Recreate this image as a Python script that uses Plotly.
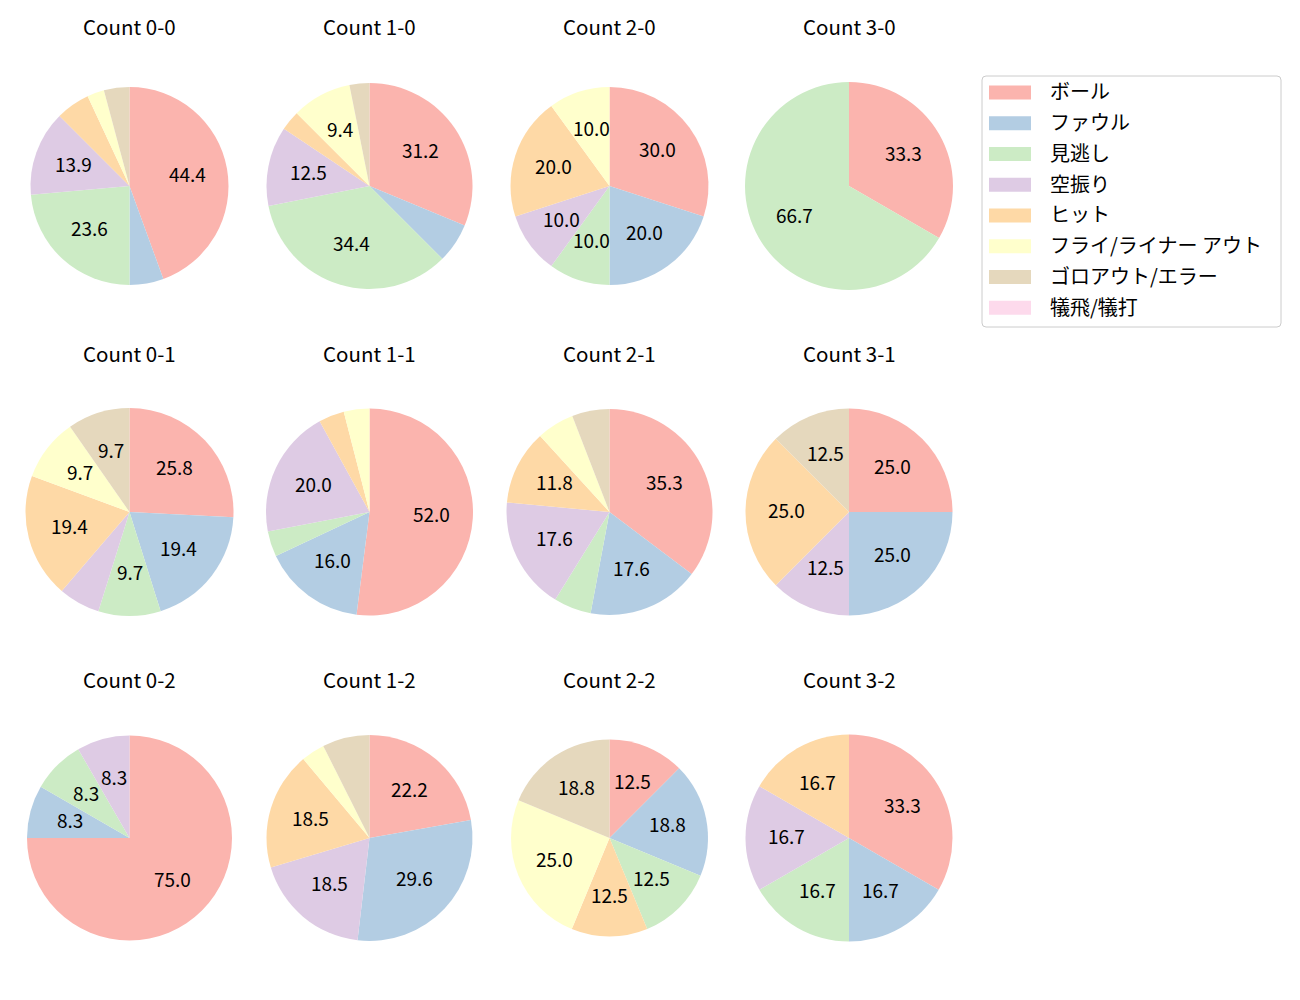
import numpy as np
import plotly.graph_objects as go

categories = ["ボール", "ファウル", "見逃し", "空振り", "ヒット",
              "フライ/ライナー アウト", "ゴロアウト/エラー", "犠飛/犠打"]
colors = ["#fbb4ae", "#b3cde3", "#ccebc5", "#decbe4", "#fed9a6",
          "#ffffcc", "#e5d8bd", "#fddaec"]

counts = ["0-0", "1-0", "2-0", "3-0",
          "0-1", "1-1", "2-1", "3-1",
          "0-2", "1-2", "2-2", "3-2"]

# pitch outcome counts per ball-strike count (order of categories)
v_00 = [32, 4, 17, 10, 4, 2, 3, 0]
v_10 = [10, 2, 11, 4, 1, 3, 1, 0]
v_20 = [3, 2, 1, 1, 2, 1, 0, 0]
v_30 = [1, 0, 2, 0, 0, 0, 0, 0]
v_01 = [8, 6, 3, 2, 6, 3, 3, 0]
v_11 = [13, 4, 1, 5, 1, 1, 0, 0]
v_21 = [6, 3, 1, 3, 2, 1, 1, 0]
v_31 = [2, 2, 0, 1, 2, 0, 1, 0]
v_02 = [9, 1, 1, 1, 0, 0, 0, 0]
v_12 = [6, 8, 0, 5, 5, 1, 2, 0]
v_22 = [2, 3, 2, 0, 2, 4, 3, 0]
v_32 = [2, 1, 1, 1, 1, 0, 0, 0]
values = [v_00, v_10, v_20, v_30, v_01, v_11, v_21, v_31, v_02, v_12, v_22, v_32]

# layout (pixels, in screenshot coordinates)
W, H = 1300, 1000
OFF = 8  # page body margin
col_x = [129.5, 369.5, 609.5, 849]
row_y = [186, 512, 838]
radii = [99, 103, 99, 104,
         104, 103.5, 103, 103.5,
         102.5, 103, 98.5, 103.5]
FONT = "Noto Sans CJK JP"
MIN_PCT = 8.0
TEXT_DY = -2.5  # font baseline compensation


def px(x):
    return (x - OFF) / W


def py(y):
    return 1 - (y - OFF) / H


fig = go.Figure()
annotations = []
shapes = []

for i, (cnt, vals) in enumerate(zip(counts, values)):
    r = radii[i]
    cx = col_x[i % 4]
    cy = row_y[i // 4]
    fig.add_trace(go.Pie(
        labels=categories, values=vals,
        marker=dict(colors=colors, line=dict(width=0)),
        sort=False, direction="clockwise", rotation=0,
        textinfo="none", showlegend=False,
        domain=dict(x=[px(cx - r), px(cx + r)],
                    y=[py(cy + r), py(cy - r)]),
        hovertemplate="%{label}: %{percent}<extra></extra>",
    ))
    v = np.array(vals, dtype=float)
    pct = v / v.sum() * 100
    ends = np.cumsum(pct) / 100 * 360
    starts = ends - pct / 100 * 360
    for p, s, e in zip(pct, starts, ends):
        if p < MIN_PCT:
            continue
        mid = np.deg2rad(90 - (s + e) / 2)
        tx = cx + 0.6 * r * np.cos(mid)
        ty = cy - 0.6 * r * np.sin(mid)
        annotations.append(dict(
            x=px(tx), y=py(ty + TEXT_DY), xref="paper", yref="paper",
            text=f"{p:.1f}", showarrow=False,
            font=dict(family=FONT, size=19, color="black"),
            xanchor="center", yanchor="middle"))
    annotations.append(dict(
        x=px(cx), y=py(cy - 157 + TEXT_DY), xref="paper", yref="paper",
        text=f"Count {cnt}", showarrow=False,
        font=dict(family=FONT, size=20.5, color="black"),
        xanchor="center", yanchor="middle"))

# manual legend (matplotlib-style box)
lx0, lx1, ly0, ly1 = 982, 1281, 76, 327
rad = 4
path_paper = (
    f"M {px(lx0+rad)},{py(ly0)} L {px(lx1-rad)},{py(ly0)} Q {px(lx1)},{py(ly0)} {px(lx1)},{py(ly0+rad)} "
    f"L {px(lx1)},{py(ly1-rad)} Q {px(lx1)},{py(ly1)} {px(lx1-rad)},{py(ly1)} L {px(lx0+rad)},{py(ly1)} "
    f"Q {px(lx0)},{py(ly1)} {px(lx0)},{py(ly1-rad)} L {px(lx0)},{py(ly0+rad)} Q {px(lx0)},{py(ly0)} {px(lx0+rad)},{py(ly0)} Z")
shapes.append(dict(type="path", xref="paper", yref="paper", path=path_paper,
                   line=dict(color="#cccccc", width=1), fillcolor="rgba(255,255,255,0.8)"))
row0, step = 92.5, 30.75
for k, (lab, col) in enumerate(zip(categories, colors)):
    yc = row0 + k * step
    shapes.append(dict(type="rect", xref="paper", yref="paper",
                       x0=px(989), x1=px(1031), y0=py(yc + 7), y1=py(yc - 7),
                       line=dict(width=0), fillcolor=col))
    annotations.append(dict(
        x=px(1048), y=py(yc - 1.5), xref="paper", yref="paper", text=lab,
        showarrow=False, xanchor="left", yanchor="middle",
        font=dict(family=FONT, size=20, color="black")))

fig.update_layout(
    width=W, height=H,
    margin=dict(l=0, r=0, t=0, b=0),
    paper_bgcolor="white", plot_bgcolor="white",
    annotations=annotations, shapes=shapes,
    showlegend=False,
)

fig.write_html("out.html")
